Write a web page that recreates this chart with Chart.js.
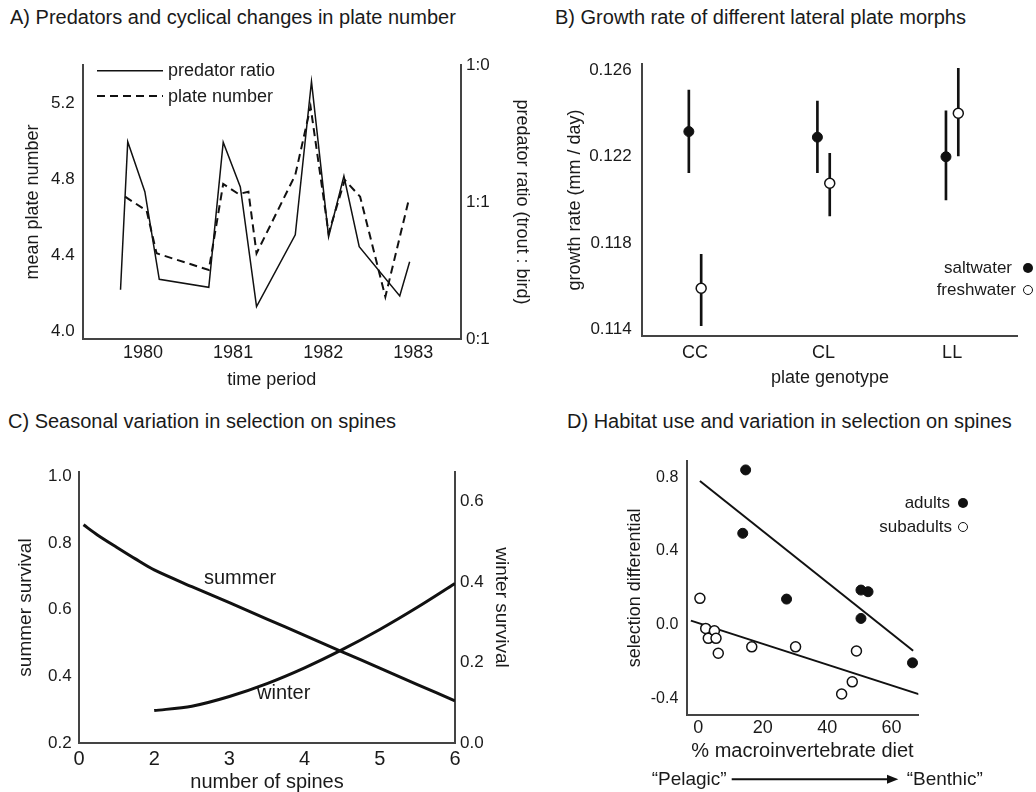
<!DOCTYPE html>
<html>
<head>
<meta charset="utf-8">
<script src="https://cdn.jsdelivr.net/npm/chart.js@4.4.1/dist/chart.umd.min.js"></script>
<style>
body { margin: 0; background: #fff; width: 1036px; height: 792px; position: relative; overflow: hidden;
  font-family: "Liberation Sans", Arial, sans-serif; color: #1a1a1a; }
canvas { position: absolute; }
.title { position: absolute; white-space: nowrap; font-size: 20px; line-height: 24px; }
.lab { position: absolute; white-space: nowrap; font-size: 17px; line-height: 20px; }
.dot { position: absolute; width: 10px; height: 10px; border-radius: 50%; box-sizing: border-box; }
.dot.fill { background: #111; }
.dot.open { background: #fff; border: 1.5px solid #111; }
svg { position: absolute; left: 0; top: 0; }
</style>
</head>
<body>

<div class="title" style="left:10px;top:5px">A) Predators and cyclical changes in plate number</div>
<div class="title" style="left:555px;top:5px">B) Growth rate of different lateral plate morphs</div>
<div class="title" style="left:8px;top:409px">C) Seasonal variation in selection on spines</div>
<div class="title" style="left:567px;top:409px">D) Habitat use and variation in selection on spines</div>

<canvas id="chartA" width="540" height="360" style="left:0;top:40px"></canvas>
<canvas id="chartB" width="516" height="360" style="left:520px;top:40px"></canvas>
<canvas id="chartC" width="540" height="352" style="left:0;top:440px"></canvas>
<canvas id="chartD" width="476" height="352" style="left:560px;top:440px"></canvas>

<svg width="1036" height="792">
  <line x1="97" y1="70.7" x2="163" y2="70.7" stroke="#111" stroke-width="1.5"/>
  <line x1="97" y1="96" x2="163" y2="96" stroke="#111" stroke-width="2" stroke-dasharray="8,5"/>
  <line x1="731.7" y1="779.3" x2="890" y2="779.3" stroke="#111" stroke-width="2"/>
  <polygon points="898.3,779.3 887,774.8 887,783.8" fill="#111"/>
</svg>

<!-- legend A -->
<div class="lab" style="left:168px;top:60px;font-size:18px">predator ratio</div>
<div class="lab" style="left:168px;top:86px;font-size:18px">plate number</div>

<!-- legend B -->
<div class="lab" style="right:24px;top:257.7px">saltwater</div>
<div class="lab" style="right:20px;top:280px">freshwater</div>
<div class="dot fill" style="left:1023px;top:262.7px"></div>
<div class="dot open" style="left:1023px;top:285px"></div>

<!-- curve labels C -->
<div class="lab" style="left:204px;top:565px;font-size:20px;line-height:24px">summer</div>
<div class="lab" style="left:257px;top:680px;font-size:20px;line-height:24px">winter</div>

<!-- legend D -->
<div class="lab" style="right:86px;top:493.3px">adults</div>
<div class="lab" style="right:84px;top:517.3px">subadults</div>
<div class="dot fill" style="left:958.3px;top:498.3px"></div>
<div class="dot open" style="left:958.3px;top:522.3px"></div>

<div class="lab" style="left:651.7px;top:768px;font-size:19px;line-height:22px">“Pelagic”</div>
<div class="lab" style="left:906.7px;top:768px;font-size:19px;line-height:22px">“Benthic”</div>

<script>
// ---------- A) predators and plate number ----------
const yearTicks = [1980, 1981, 1982, 1983]
const plateTicks = [4.0, 4.4, 4.8, 5.2]
const ratioTicks = [0, 1, 2]
const ratioLabels = ['0:1', '1:1', '1:0']

const predatorTimes = [1979.75, 1979.83, 1980.02, 1980.18, 1980.73, 1980.89, 1981.08, 1981.26, 1981.69, 1981.87, 1982.06, 1982.23, 1982.40, 1982.85, 1982.96]
const predatorRatio = [0.36, 1.44, 1.075, 0.436, 0.377, 1.436, 1.11, 0.236, 0.76, 1.88, 0.747, 1.19, 0.674, 0.314, 0.564]

const plateTimes = [1979.80, 1980.04, 1980.15, 1980.73, 1980.89, 1981.06, 1981.17, 1981.26, 1981.69, 1981.86, 1982.06, 1982.24, 1982.41, 1982.69, 1982.95]
const plateNumber = [4.707, 4.633, 4.409, 4.321, 4.774, 4.721, 4.733, 4.409, 4.821, 5.18, 4.514, 4.795, 4.707, 4.18, 4.69]

// ---------- B) growth rate ----------
const genotypes = ['CC', 'CL', 'LL']
const growthTicks = [0.114, 0.118, 0.122, 0.126]
const saltMean = [0.12317, 0.12291, 0.12200]
const saltLow = [0.12126, 0.12126, 0.11999]
const saltHigh = [0.12510, 0.12459, 0.12413]
const freshMean = [0.11589, 0.12077, 0.12402]
const freshLow = [0.11415, 0.11925, 0.12204]
const freshHigh = [0.11747, 0.12216, 0.12611]

// ---------- C) seasonal selection on spines ----------
const spineLabels = ['0', '2', '3', '4', '5', '6']   // axis is broken between 0 and 2
const summerTicks = [0.2, 0.4, 0.6, 0.8, 1.0]
const winterTicks = [0.0, 0.2, 0.4, 0.6]
const summerPos = [1.06, 1.25, 1.5, 1.75, 2, 2.5, 3, 3.5, 4, 4.5, 5, 5.5, 6]
const summerSurvival = [0.854, 0.823, 0.787, 0.752, 0.719, 0.669, 0.621, 0.572, 0.523, 0.474, 0.425, 0.376, 0.327]
const winterPos = [2, 2.5, 3, 3.5, 4, 4.5, 5, 5.5, 6]
const winterSurvival = [0.081, 0.092, 0.116, 0.148, 0.187, 0.232, 0.282, 0.337, 0.396]

// ---------- D) habitat use ----------
const dietTicks = [0, 20, 40, 60]
const selTicks = [-0.4, 0.0, 0.4, 0.8]
const adultDiet = [14.7, 13.8, 27.4, 50.5, 52.7, 50.5, 66.5]
const adultSel = [0.84, 0.496, 0.139, 0.188, 0.179, 0.034, -0.207]
const subDiet = [0.5, 2.3, 3.1, 5.0, 5.5, 6.2, 16.6, 30.2, 49.1, 47.8, 44.5]
const subSel = [0.143, -0.02, -0.074, -0.033, -0.074, -0.155, -0.12, -0.12, -0.143, -0.31, -0.376]
const adultFitX = [0.5, 66.7]
const adultFitY = [0.78, -0.141]
const subFitX = [-2.3, 69.3]
const subFitY = [0.022, -0.382]

Chart.defaults.font.family = '"Liberation Sans", Arial, sans-serif'
Chart.defaults.color = '#1a1a1a'

const ink = '#111'
const axisLine = { color: '#444', width: 2 }
const noGrid = { drawOnChartArea: false, drawTicks: false }

function pts(xs, ys) {
    return xs.map((x, i) => ({ x: x, y: ys[i] }))
}
function setTicks(values) {
    return scale => { scale.ticks = values.map(v => ({ value: v })) }
}
function size(px) {
    return scale => {
        if (scale.isHorizontal()) scale.height = px
        else scale.width = px
    }
}
const baseOptions = {
    responsive: false,
    animation: false,
    events: [],
    plugins: { legend: { display: false }, tooltip: { enabled: false } }
}

// A
new Chart(document.getElementById('chartA'), {
    type: 'line',
    data: {
        datasets: [
            { data: pts(predatorTimes, predatorRatio), yAxisID: 'y2', borderColor: ink, borderWidth: 1.5, pointRadius: 0, tension: 0 },
            { data: pts(plateTimes, plateNumber), yAxisID: 'y', borderColor: ink, borderWidth: 2, borderDash: [8, 5], pointRadius: 0, tension: 0 }
        ]
    },
    options: {
        ...baseOptions,
        layout: { padding: { top: 25 } },
        scales: {
            x: {
                type: 'linear', min: 1979.33, max: 1983.53,
                afterBuildTicks: setTicks(yearTicks), afterFit: size(61),
                ticks: { callback: v => String(v), padding: 3, font: { size: 18 } },
                grid: noGrid, border: axisLine,
                title: { display: true, text: 'time period', font: { size: 18 }, padding: { top: 0, bottom: 9 } }
            },
            y: {
                position: 'left', min: 3.958, max: 5.4,
                afterBuildTicks: setTicks(plateTicks), afterFit: size(82.7),
                ticks: { callback: v => v.toFixed(1), padding: 8, font: { size: 17 } },
                grid: noGrid, border: axisLine,
                title: { display: true, text: 'mean plate number', font: { size: 18 }, padding: { top: 22 } }
            },
            y2: {
                position: 'right', min: 0, max: 2,
                afterBuildTicks: setTicks(ratioTicks), afterFit: size(79),
                ticks: { callback: v => ratioLabels[v], padding: 5, font: { size: 17 } },
                grid: noGrid, border: axisLine,
                title: { display: true, text: 'predator ratio (trout : bird)', font: { size: 18 }, padding: { top: 7 } }
            }
        }
    }
})

// B
const off = 0.048
new Chart(document.getElementById('chartB'), {
    type: 'scatter',
    data: {
        datasets: [
            { data: pts(genotypes.map((g, i) => i + 1 - off), saltMean), order: 0,
              pointRadius: 5, pointBackgroundColor: ink, pointBorderColor: ink, pointBorderWidth: 1 },
            { data: pts(genotypes.map((g, i) => i + 1 + off), freshMean), order: 0,
              pointRadius: 5, pointBackgroundColor: '#fff', pointBorderColor: ink, pointBorderWidth: 1.5 },
            { type: 'bar', order: 1, grouped: false, barThickness: 2, backgroundColor: ink,
              data: genotypes.map((g, i) => ({ x: i + 1 - off, y: [saltLow[i], saltHigh[i]] })) },
            { type: 'bar', order: 1, grouped: false, barThickness: 2, backgroundColor: ink,
              data: genotypes.map((g, i) => ({ x: i + 1 + off, y: [freshLow[i], freshHigh[i]] })) }
        ]
    },
    options: {
        ...baseOptions,
        layout: { padding: { top: 24, right: 18.3 } },
        scales: {
            x: {
                type: 'linear', min: 0.59, max: 3.51, offset: false,
                afterBuildTicks: setTicks([1, 2, 3]), afterFit: size(64),
                ticks: { callback: v => genotypes[v - 1], padding: 6, font: { size: 18 } },
                grid: noGrid, border: axisLine,
                title: { display: true, text: 'plate genotype', font: { size: 18 }, padding: { top: 0, bottom: 11 } }
            },
            y: {
                type: 'linear', min: 0.11367, max: 0.12631,
                afterBuildTicks: setTicks(growthTicks), afterFit: size(122.3),
                ticks: { callback: v => v.toFixed(3), padding: 10.6, font: { size: 17 } },
                grid: noGrid, border: axisLine,
                title: { display: true, text: 'growth rate (mm / day)', font: { size: 18 }, padding: { top: 44 } }
            }
        }
    }
})

// C
new Chart(document.getElementById('chartC'), {
    type: 'line',
    data: {
        datasets: [
            { data: pts(summerPos, summerSurvival), yAxisID: 'y', borderColor: ink, borderWidth: 3, pointRadius: 0, tension: 0.3 },
            { data: pts(winterPos, winterSurvival), yAxisID: 'y2', borderColor: ink, borderWidth: 3, pointRadius: 0, tension: 0.3 }
        ]
    },
    options: {
        ...baseOptions,
        layout: { padding: { top: 31.7 } },
        scales: {
            x: {
                type: 'linear', min: 1, max: 6,
                afterBuildTicks: setTicks([1, 2, 3, 4, 5, 6]), afterFit: size(48.7),
                ticks: { callback: v => spineLabels[v - 1], padding: 4, font: { size: 20 } },
                grid: noGrid, border: axisLine,
                title: { display: true, text: 'number of spines', font: { size: 20, lineHeight: 1 }, padding: { top: 0, bottom: 0 } }
            },
            y: {
                position: 'left', min: 0.2, max: 1.013,
                afterBuildTicks: setTicks(summerTicks), afterFit: size(79),
                ticks: { callback: v => v.toFixed(1), padding: 7.3, font: { size: 17 } },
                grid: noGrid, border: axisLine,
                title: { display: true, text: 'summer survival', font: { size: 19 }, padding: { top: 14.3 } }
            },
            y2: {
                position: 'right', min: 0, max: 0.673,
                afterBuildTicks: setTicks(winterTicks), afterFit: size(85),
                ticks: { callback: v => v.toFixed(1), padding: 5, font: { size: 17 } },
                grid: noGrid, border: axisLine,
                title: { display: true, text: 'winter survival', font: { size: 19 }, padding: { top: 27 } }
            }
        }
    }
})

// D
new Chart(document.getElementById('chartD'), {
    type: 'scatter',
    data: {
        datasets: [
            { data: pts(adultDiet, adultSel), pointRadius: 5, pointBackgroundColor: ink, pointBorderColor: ink, pointBorderWidth: 1 },
            { data: pts(subDiet, subSel), pointRadius: 5, pointBackgroundColor: '#fff', pointBorderColor: ink, pointBorderWidth: 1.5 },
            { type: 'line', data: pts(adultFitX, adultFitY), borderColor: ink, borderWidth: 2, pointRadius: 0, order: 1 },
            { type: 'line', data: pts(subFitX, subFitY), borderColor: ink, borderWidth: 2, pointRadius: 0, order: 1 }
        ]
    },
    options: {
        ...baseOptions,
        layout: { padding: { top: 20.7, right: 117.7 } },
        scales: {
            x: {
                type: 'linear', min: -3.6, max: 68.3,
                afterBuildTicks: setTicks(dietTicks), afterFit: size(77),
                ticks: { padding: 2.5, font: { size: 18 } },
                grid: noGrid, border: axisLine,
                title: { display: true, text: '% macroinvertebrate diet', font: { size: 20 }, padding: { top: 0, bottom: 28.3 } }
            },
            y: {
                type: 'linear', min: -0.49, max: 0.89,
                afterBuildTicks: setTicks(selTicks), afterFit: size(126.7),
                ticks: { callback: v => v.toFixed(1), padding: 8.4, font: { size: 16 } },
                grid: noGrid, border: axisLine,
                title: { display: true, text: 'selection differential', font: { size: 18 }, padding: { top: 64 } }
            }
        }
    }
})
</script>
</body>
</html>
